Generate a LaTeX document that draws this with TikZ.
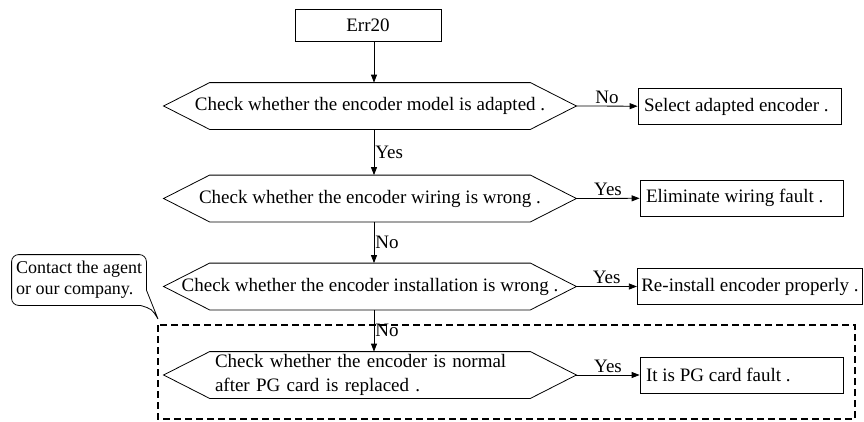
\documentclass[tikz,border=0pt]{standalone}
\usepackage{fontspec}
\setmainfont{Liberation Serif}
\usetikzlibrary{arrows.meta}
\begin{document}
\begin{tikzpicture}[x=1pt,y=-1pt, line width=0.8pt, font=\fontsize{19}{23}\selectfont,
    stepbox/.style={draw, rectangle, minimum height=36pt, inner xsep=6pt, inner ysep=3pt, align=flush left},
    check/.style={rectangle, minimum width=320pt, minimum height=46pt, inner sep=0pt},
    flow/.style={-{Triangle[length=8pt,width=6pt]}}]
  \useasboundingbox (0,0) rectangle (864,421);
  \node[draw, minimum width=146pt, minimum height=32pt] (err) at (368,25) {Err20};
  \node[check] (c1) at (370,106) {\makebox[0pt]{Check whether the encoder model is adapted .}};
  \node[check] (c2) at (370,198.5) {\makebox[0pt]{Check whether the encoder wiring is wrong .}};
  \node[check] (c3) at (370,286.5) {\makebox[0pt]{Check whether the encoder installation is wrong .}};
  \node[check, text width=310pt, align=left, font=\fontsize{19}{24}\selectfont] (c4) at (370,375)
    {Check whether the encoder is normal\\after PG card is replaced .};
  \foreach \c in {c1,c2,c3,c4}
    \draw (\c.north west) -- (\c.north east) -- ([xshift=46pt]\c.east) -- (\c.south east)
      -- (\c.south west) -- ([xshift=-46pt]\c.west) -- cycle;
  \node[stepbox, text width=191pt] (f1) at (739.5,106.5) {Select adapted encoder .};
  \node[stepbox, text width=191pt] (f2) at (741.5,198) {Eliminate wiring fault .};
  \node[stepbox, inner xsep=4pt] (f3) at (750,286.5) {Re-install encoder properly .};
  \node[stepbox, text width=191pt] (f4) at (741.5,375) {It is PG card fault .};
  \draw[flow] ([xshift=6pt]err.south) -- ([xshift=4pt]c1.north);
  \foreach \a/\b/\l in {c1/c2/Yes, c2/c3/No, c3/c4/No}
    \draw[flow] ([xshift=4pt]\a.south) -- node[right, inner sep=1pt] {\l} ([xshift=4pt]\b.north);
  \foreach \a/\b/\l in {c1/f1/No, c2/f2/Yes, c3/f3/Yes, c4/f4/Yes}
    \draw[flow] ([xshift=46pt]\a.east) -- node[above, inner sep=2pt] {\l} (\b);
  \coordinate (grp) at (158,325);
  \coordinate (tip) at (158,319);
  \draw[line width=1.4pt, dash pattern=on 7pt off 4pt] (grp) rectangle (855,419);
  \node[align=left, inner sep=4pt, font=\fontsize{18}{21}\selectfont,
    minimum width=134pt, minimum height=50pt] (note) at (79,280)
    {Contact the agent\\or our company.};
  \draw (note.south) [rounded corners=7pt] -| (note.north west) -| (note.east) [sharp corners]
    -- ([yshift=-10pt]note.east) .. controls +(6,14) .. (tip)
    .. controls +(-6,-10) .. ([xshift=-6pt]note.south east) -- (note.south);
\end{tikzpicture}
\end{document}
